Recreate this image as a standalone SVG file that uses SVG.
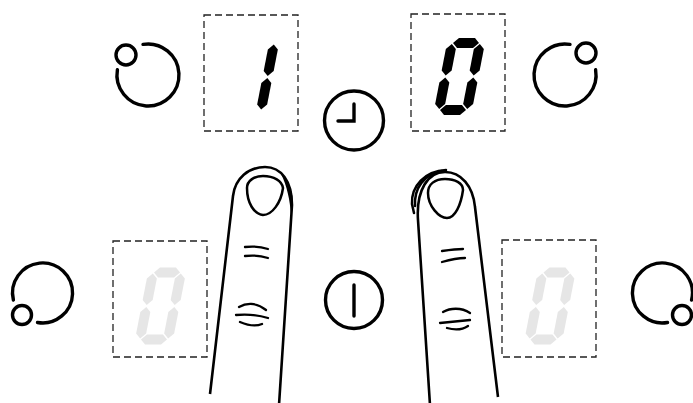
<svg xmlns="http://www.w3.org/2000/svg" width="693" height="403" viewBox="0 0 693 403">
  <style>
    .box { fill: none; stroke: #222; stroke-width: 1.3; stroke-dasharray: 7 4; }
    .knob { fill: none; stroke: #000; stroke-width: 3.4; stroke-linecap: round; }
    .icon { fill: none; stroke: #000; stroke-width: 3.4; stroke-linecap: round; }
    .finger { fill: #fff; stroke: #000; stroke-width: 2.6; stroke-linejoin: round; }
    .line { fill: none; stroke: #000; stroke-width: 2.5; stroke-linecap: round; }
    .crease { fill: none; stroke: #000; stroke-width: 2.3; stroke-linecap: round; }
    .lit { fill: #000; }
    .off { fill: #e6e6e6; }
  </style>
  <defs>
    <!-- seven-segment pieces, upright; digits are skewed where used -->
    <polygon id="segTop" points="-13,-33.5 -8,-38.5 8,-38.5 13,-33.5 8,-28.5 -8,-28.5"/>
    <polygon id="segBot" points="-13,33.5 -8,28.5 8,28.5 13,33.5 8,38.5 -8,38.5"/>
    <polygon id="segUR" points="14,-32.5 19,-27.5 19,-6 14,-1 9,-6 9,-27.5"/>
    <polygon id="segLR" points="14,1 19,6 19,27.5 14,32.5 9,27.5 9,6"/>
    <polygon id="segUL" points="-14,-32.5 -9,-27.5 -9,-6 -14,-1 -19,-6 -19,-27.5"/>
    <polygon id="segLL" points="-14,1 -9,6 -9,27.5 -14,32.5 -19,27.5 -19,6"/>
    <g id="digit0">
      <use href="#segTop"/><use href="#segBot"/>
      <use href="#segUR"/><use href="#segLR"/>
      <use href="#segUL"/><use href="#segLL"/>
    </g>
    <g id="digit1">
      <use href="#segUR"/><use href="#segLR"/>
    </g>
  </defs>

  <!-- top-left zone: knob and display showing 1 -->
  <g id="knob-top-left">
    <path class="knob" d="M143,44.4 A31,31 0 1 1 117.4,69.8"/>
    <circle class="knob" cx="126" cy="55" r="10"/>
  </g>
  <g id="display-top-left">
    <rect class="box" x="204" y="15" width="94" height="116"/>
    <use class="lit" href="#digit1" transform="translate(253.5,77) skewX(-11)"/>
  </g>

  <!-- top-right zone: display showing 0 and knob -->
  <g id="display-top-right">
    <rect class="box" x="411" y="14" width="94" height="117"/>
    <use class="lit" href="#digit0" transform="translate(459.5,76.5) skewX(-11)"/>
  </g>
  <g id="knob-top-right">
    <path class="knob" d="M570,44.4 A31,31 0 1 0 595.6,69.8"/>
    <circle class="knob" cx="586" cy="53" r="10"/>
  </g>

  <!-- timer key -->
  <g id="timer-key">
    <circle class="icon" cx="354" cy="120.5" r="29.5"/>
    <path class="icon" d="M354,104 V121 H338"/>
  </g>

  <!-- bottom-left zone -->
  <g id="knob-bottom-left">
    <path class="knob" d="M13.4,300 A30,30 0 1 1 37.5,322.5"/>
    <circle class="knob" cx="22" cy="315" r="9.5"/>
  </g>
  <g id="display-bottom-left">
    <rect class="box" x="113" y="241" width="94" height="116"/>
    <use class="off" href="#digit0" transform="translate(160.5,306) skewX(-11)"/>
  </g>

  <!-- power key -->
  <g id="power-key">
    <circle class="icon" cx="354" cy="300" r="28.5"/>
    <path class="icon" d="M354,285 V316"/>
  </g>

  <!-- bottom-right zone -->
  <g id="display-bottom-right">
    <rect class="box" x="502" y="240" width="94" height="117"/>
    <use class="off" href="#digit0" transform="translate(550,306) skewX(-11)"/>
  </g>
  <g id="knob-bottom-right">
    <path class="knob" d="M691.6,300 A30,30 0 1 0 667.5,322.5"/>
    <circle class="knob" cx="682" cy="315" r="9.5"/>
  </g>

  <!-- left hand finger -->
  <g id="finger-left">
    <path class="finger" d="M210,394 L233,196 C235,178 249,167 265,167 C281,167 292,181 292,205 L279,405"/>
    <path fill="#000" d="M281,174 C289,181 293,192 293,206 L291,215 C290,200 287,186 281,174 Z"/>
    <path class="line" d="M247,188 C247,181 254,176 263,176 C274,176 282,181 283,188 C281,203 272,215 263,215 C254,214 247,203 247,188 Z"/>
    <path class="crease" d="M245,247 C253,246 262,247 268,249"/>
    <path class="crease" d="M245,256 C253,255 262,256 268,258"/>
    <path class="crease" d="M239,307 C246,303 256,302 266,310"/>
    <path class="crease" d="M236,315 C246,314 258,315 268,318"/>
    <path class="crease" d="M240,322 C247,325 255,327 262,324"/>
  </g>

  <!-- right hand finger -->
  <g id="finger-right">
    <path class="finger" d="M430,405 L418,220 C416,190 428,172 445,172 C461,172 473,186 475,207 L498,397"/>
    <path class="line" d="M446,170 C425,171 411,186 412,204 L414,213"/>
    <path class="line" d="M442,171 C424,174 414,188 415,206"/>
    <path class="line" d="M428,193 C428,184 435,179 445,179 C455,179 463,183 463,190 C461,205 455,218 447,218 C439,218 428,206 428,193 Z"/>
    <path class="crease" d="M442,251 C449,250 456,249 463,249"/>
    <path class="crease" d="M442,262 C449,260 457,258 465,258"/>
    <path class="crease" d="M443,312 C450,308 461,307 470,313"/>
    <path class="crease" d="M440,323 C450,322 460,321 470,320"/>
    <path class="crease" d="M447,328 C454,330 462,330 468,326"/>
  </g>
</svg>
